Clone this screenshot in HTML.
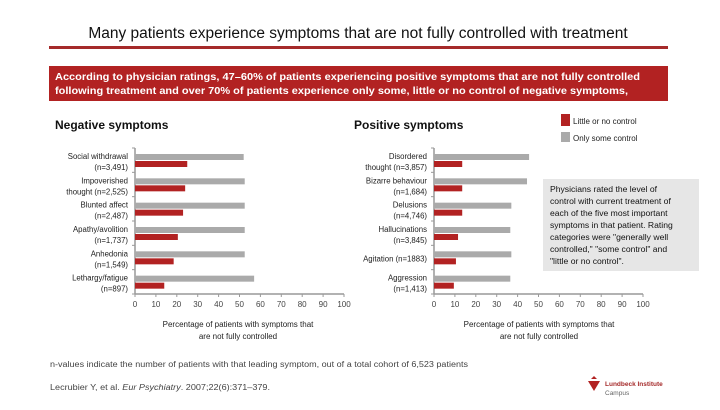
<!DOCTYPE html>
<html><head><meta charset="utf-8"><style>
body{margin:0;background:#fff;width:720px;height:405px;overflow:hidden;font-family:"Liberation Sans",sans-serif}
svg text{font-family:"Liberation Sans",sans-serif}
</style></head><body>
<svg id="c" width="720" height="405" xmlns="http://www.w3.org/2000/svg">
<text x="358" y="38" font-size="15.5" text-anchor="middle" fill="#111">Many patients experience symptoms that are not fully controlled with treatment</text>
<rect x="49" y="46" width="619" height="3" fill="#a52a2a"/>
<rect x="49" y="66" width="619" height="35" fill="#b22222"/>
<text x="55" y="80" font-size="10.5" font-weight="bold" fill="#fff" textLength="585" lengthAdjust="spacingAndGlyphs">According to physician ratings, 47–60% of patients experiencing positive symptoms that are not fully controlled</text>
<text x="55" y="94" font-size="10.5" font-weight="bold" fill="#fff" textLength="573" lengthAdjust="spacingAndGlyphs">following treatment and over 70% of patients experience only some, little or no control of negative symptoms,</text>
<text x="55" y="129" font-size="12" font-weight="bold" fill="#111">Negative symptoms</text>
<text x="354" y="129" font-size="12" font-weight="bold" fill="#111">Positive symptoms</text>
<rect x="561" y="114" width="9" height="12" fill="#b22222"/>
<text x="573" y="124" font-size="8" fill="#222">Little or no control</text>
<rect x="561" y="132" width="9" height="10" fill="#aaa"/>
<text x="573" y="141" font-size="8" fill="#222">Only some control</text>
<rect x="543" y="179" width="156" height="92" fill="#e6e6e6"/>
<g font-size="8.6" fill="#111">
<text x="550" y="192">Physicians rated the level of</text>
<text x="550" y="204">control with current treatment of</text>
<text x="550" y="216">each of the five most important</text>
<text x="550" y="228">symptoms in that patient. Rating</text>
<text x="550" y="240">categories were "generally well</text>
<text x="550" y="252">controlled," "some control" and</text>
<text x="550" y="264">"little or no control".</text>
</g>
<text x="238" y="327" font-size="8" text-anchor="middle" fill="#222">Percentage of patients with symptoms that</text>
<text x="238" y="339" font-size="8" text-anchor="middle" fill="#222">are not fully controlled</text>
<text x="539" y="327" font-size="8" text-anchor="middle" fill="#222">Percentage of patients with symptoms that</text>
<text x="539" y="339" font-size="8" text-anchor="middle" fill="#222">are not fully controlled</text>
<text x="50" y="367" font-size="8" fill="#444" textLength="418" lengthAdjust="spacingAndGlyphs">n-values indicate the number of patients with that leading symptom, out of a total cohort of 6,523 patients</text>
<text x="50" y="390" font-size="8" fill="#444" textLength="220" lengthAdjust="spacingAndGlyphs">Lecrubier Y, et al. <tspan font-style="italic">Eur Psychiatry</tspan>. 2007;22(6):371–379.</text>
<path d="M591 379 l3 -3 l3 3 z M588 381 h12 l-6 10 z" fill="#b22222"/>
<text x="605" y="386" font-size="6.5" font-weight="bold" fill="#a52a2a">Lundbeck Institute</text>
<text x="605" y="395" font-size="6.5" fill="#666">Campus</text>
</svg>
<script>
const negCats=[["Social withdrawal","(n=3,491)"],["Impoverished","thought (n=2,525)"],["Blunted affect","(n=2,487)"],["Apathy/avolition","(n=1,737)"],["Anhedonia","(n=1,549)"],["Lethargy/fatigue","(n=897)"]];
const negSome=[52,52.5,52.5,52.5,52.5,57];
const negLittle=[25,24,23,20.5,18.5,14];
const posCats=[["Disordered","thought (n=3,857)"],["Bizarre behaviour","(n=1,684)"],["Delusions","(n=4,746)"],["Hallucinations","(n=3,845)"],["Agitation (n=1883)",""],["Aggression","(n=1,413)"]];
const posSome=[45.5,44.5,37,36.5,37,36.5];
const posLittle=[13.5,13.5,13.5,11.5,10.5,9.5];
const ticks=[0,10,20,30,40,50,60,70,80,90,100];
const NS="http://www.w3.org/2000/svg";
const svg=document.getElementById('c');
function mk(t,a,txt){const e=document.createElementNS(NS,t);for(const k in a)e.setAttribute(k,a[k]);if(txt!==undefined)e.textContent=txt;svg.appendChild(e);return e;}
function panel(x0,x1,cats,some,little,side){
  const top=148,bot=294,n=cats.length,step=(bot-top)/n;
  const sx=v=>x0+(x1-x0)*v/100;
  let ax=mk('line',{x1:x0,y1:top,x2:x0,y2:bot,stroke:'#999','stroke-width':1.5});
  
  let bx=mk('line',{x1:x0,y1:bot,x2:x1,y2:bot,stroke:'#999','stroke-width':1.5});
  
  ticks.forEach(t=>{
    let l=mk('line',{x1:sx(t),y1:bot,x2:sx(t),y2:bot+3,stroke:'#999'});
    
    let tx=mk('text',{x:sx(t),y:bot+13,'font-size':8,'text-anchor':'middle',fill:'#444'},t);
    
  });
  for(let i=0;i<=n;i++){let l=mk('line',{x1:x0-3,y1:top+i*step,x2:x0,y2:top+i*step,stroke:'#999'});
    }
  cats.forEach((c,i)=>{
    const y=top+i*step;
    let g=mk('rect',{x:x0,y:y+6,width:sx(some[i])-x0,height:6,fill:'#aaa'});
    
    let r=mk('rect',{x:x0,y:y+13,width:sx(little[i])-x0,height:6,fill:'#b22222'});
    
    const two=c[1]!=='';
    let t1=mk('text',{x:x0-7,y:two?y+11:y+16,'font-size':7.8,'text-anchor':'end',fill:'#222'},c[0]);
    
    if(two){let t2=mk('text',{x:x0-7,y:y+22,'font-size':7.8,'text-anchor':'end',fill:'#222'},c[1]);
      }
  });
}
panel(135,344,negCats,negSome,negLittle,'negative');
panel(434,643,posCats,posSome,posLittle,'positive');
</script>
</body></html>
